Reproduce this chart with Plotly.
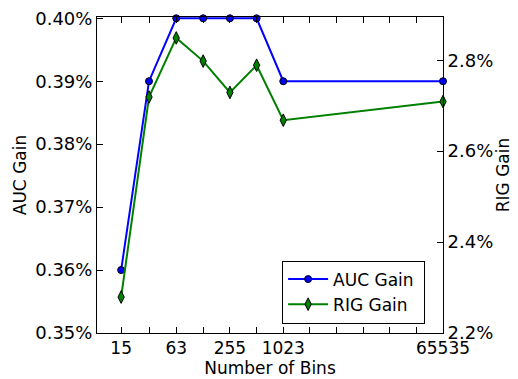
import plotly.graph_objects as go
import math

bins = [15, 31, 63, 127, 255, 511, 1023, 65535]
auc_gain = [0.360, 0.390, 0.400, 0.400, 0.400, 0.400, 0.390, 0.390]
rig_gain = [2.279, 2.719, 2.849, 2.798, 2.729, 2.789, 2.668, 2.709]
x_ticks = [15, 63, 255, 1023, 65535]
x_minor = [31, 127, 511, 2047, 4095, 8191, 16383, 32767]
auc_ticks = [0.35, 0.36, 0.37, 0.38, 0.39, 0.40]
rig_ticks = [2.2, 2.4, 2.6, 2.8]

FONT = "DejaVu Sans"
FS = 18
PAD = "\u00a0"

fig = go.Figure()
fig.add_trace(go.Scatter(
    x=bins, y=auc_gain, name="AUC Gain" + PAD, mode="lines+markers", legendgroup="a",
    line=dict(color="#0000ff", width=2),
    marker=dict(symbol="circle", size=7, color="#0000ff", line=dict(color="black", width=1)),
    cliponaxis=False, yaxis="y"))
fig.add_trace(go.Scatter(
    x=bins, y=rig_gain, name="RIG Gain" + PAD, mode="lines+markers", legendgroup="b",
    line=dict(color="#008000", width=2),
    marker=dict(symbol="diamond-tall", size=9, color="#008000", line=dict(color="black", width=1)),
    cliponaxis=False, yaxis="y2"))

# page body has an 8px margin, so the figure is shifted by 8px
fig.update_layout(
    width=510, height=371,
    margin=dict(l=89, r=75, t=9, b=46, autoexpand=False),
    paper_bgcolor="white", plot_bgcolor="white",
    font=dict(family=FONT, size=FS, color="black"),
    showlegend=True,
    legend=dict(x=0.535, y=0.03, xanchor="left", yanchor="bottom",
                bordercolor="black", borderwidth=1, bgcolor="white",
                font=dict(size=FS - 1), tracegroupgap=0, itemwidth=40),
    xaxis=dict(type="log", range=[math.log10(8), math.log10(65536)], automargin=False,
               tickvals=x_ticks, ticktext=[str(v) for v in x_ticks],
               ticks="inside", ticklen=6, tickcolor="black",
               tickfont=dict(size=FS - 1), ticklabeloverflow="allow",
               minor=dict(tickvals=x_minor, ticks="inside", ticklen=3, tickcolor="black"),
               showline=True, linecolor="black", linewidth=1, mirror="allticks",
               showgrid=False, zeroline=False,
               title=dict(text="Number of Bins", font=dict(size=FS - 1), standoff=2)),
    yaxis=dict(range=[0.35, 0.4002], tickvals=auc_ticks, automargin=False,
               ticktext=[f"{v:.2f}%" for v in auc_ticks],
               ticks="inside", ticklen=6, tickcolor="black",
               tickfont=dict(size=FS), ticklabeloverflow="allow",
               showline=True, linecolor="black", linewidth=1, mirror=True,
               showgrid=False, zeroline=False,
               title=dict(text="AUC Gain", font=dict(size=FS - 1), standoff=4)),
    yaxis2=dict(range=[2.2, 2.895], tickvals=rig_ticks, automargin=False,
                ticktext=[f"{v:.1f}%" for v in rig_ticks],
                overlaying="y", side="right",
                ticks="inside", ticklen=6, tickcolor="black",
                tickfont=dict(size=FS), ticklabeloverflow="allow",
                showline=True, linecolor="black", linewidth=1,
                showgrid=False, zeroline=False,
                title=dict(text="RIG Gain", font=dict(size=FS - 1), standoff=4)),
)

fig.write_html("out.html")
